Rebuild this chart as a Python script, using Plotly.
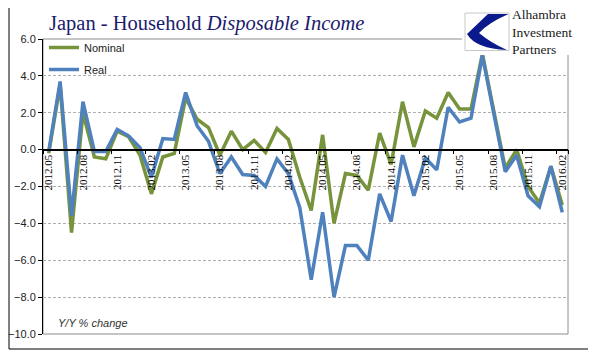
import plotly.graph_objects as go

months = ["2012.05", "2012.06", "2012.07", "2012.08", "2012.09", "2012.10", "2012.11", "2012.12",
          "2013.01", "2013.02", "2013.03", "2013.04", "2013.05", "2013.06", "2013.07", "2013.08",
          "2013.09", "2013.10", "2013.11", "2013.12", "2014.01", "2014.02", "2014.03", "2014.04",
          "2014.05", "2014.06", "2014.07", "2014.08", "2014.09", "2014.10", "2014.11", "2014.12",
          "2015.01", "2015.02", "2015.03", "2015.04", "2015.05", "2015.06", "2015.07", "2015.08",
          "2015.09", "2015.10", "2015.11", "2015.12", "2016.01", "2016.02"]

nominal = [-0.2, 3.5, -4.5, 2.0, -0.4, -0.5, 1.0, 0.7, -0.3, -2.4, -0.4, -0.2, 2.8, 1.65, 1.2, -0.3,
           1.0, 0.0, 0.5, -0.15, 1.15, 0.55, -1.5, -3.3, 0.8, -4.0, -1.3, -1.4, -2.2, 0.9, -0.8, 2.6,
           0.15, 2.1, 1.7, 3.1, 2.2, 2.2, 5.2, 2.1, -1.0, 0.0, -2.0, -2.9, -0.9, -3.0]

real = [-0.1, 3.7, -3.6, 2.6, -0.1, -0.1, 1.1, 0.75, 0.1, -1.5, 0.6, 0.55, 3.1, 1.3, 0.45, -1.3,
        -0.4, -1.35, -1.4, -2.0, -0.5, -1.3, -3.15, -7.05, -3.4, -8.0, -5.2, -5.2, -6.0, -2.4, -3.9, -0.3,
        -2.5, -0.45, -1.1, 2.3, 1.5, 1.7, 5.1, 1.9, -1.2, -0.3, -2.5, -3.1, -0.9, -3.4]

tick_months = months[::3]
y_ticks = [-10, -8, -6, -4, -2, 0, 2, 4, 6]

W, H = 596, 361
OFF = 8  # page body margin offset
L, R, T, B = 43, 568, 39, 334  # plot area in window pixels


def px(x):
    return (x - L) / (R - L)


def py(y):
    return (B - y) / (B - T)


fig = go.Figure()
fig.add_trace(go.Scatter(x=months, y=nominal, mode="lines", name="Nominal", legendgroup="a",
                         line=dict(color="#77933C", width=3.5)))
fig.add_trace(go.Scatter(x=months, y=real, mode="lines", name="Real", legendgroup="b",
                         line=dict(color="#4F81BD", width=3.5)))

shapes = []
shapes.append(dict(type="rect", xref="paper", yref="paper", x0=px(9), x1=px(589), y0=py(349), y1=py(7),
                   line=dict(color="black", width=1), fillcolor="rgba(0,0,0,0)", layer="below"))
shapes.append(dict(type="rect", xref="paper", yref="paper", x0=0, x1=1, y0=0, y1=1,
                   line=dict(color="#8c8c8c", width=1), fillcolor="rgba(0,0,0,0)", layer="below"))
shapes.append(dict(type="rect", xref="paper", yref="paper", x0=px(462), x1=px(588), y0=py(55), y1=py(8),
                   line=dict(width=0), fillcolor="white", layer="above"))
shapes.append(dict(type="rect", xref="paper", yref="paper", x0=px(465), x1=px(509), y0=py(50.5), y1=py(13),
                   line=dict(color="#c8c8c8", width=1), fillcolor="white", layer="above"))
pts = [("M", 488, 14), ("L", 508.5, 14), ("Q", 488, 23), ("", 479, 33), ("Q", 491, 43), ("", 507, 50),
       ("Q", 476, 49), ("", 467, 34)]
path = ""
for cmd, x, y in pts:
    path += f"{cmd} {px(x):.4f},{py(y):.4f} "
path += "Z"
shapes.append(dict(type="path", xref="paper", yref="paper", path=path,
                   fillcolor="#0a1a8c", line=dict(width=0), layer="above"))

annotations = [
    dict(text="Japan - Household <i>Disposable Income</i>", xref="paper", yref="paper",
         x=px(47), y=py(24), xanchor="left", yanchor="middle", showarrow=False,
         font=dict(family="Liberation Serif", size=20.5, color="#1b1b6e")),
    dict(text="<i>Y/Y % change</i>", xref="paper", yref="paper",
         x=px(56), y=py(323), xanchor="left", yanchor="middle", showarrow=False,
         font=dict(family="Liberation Sans", size=11, color="#333333")),
    dict(text="Alhambra<br>Investment<br>Partners", xref="paper", yref="paper",
         x=px(510), y=py(31.5), xanchor="left", yanchor="middle", align="left", showarrow=False,
         font=dict(family="Liberation Serif", size=13.5, color="#1a1a1a")),
]

fig.update_layout(
    width=W, height=H,
    margin=dict(l=L - OFF, r=W - R + OFF, t=T - OFF, b=H - B + OFF, autoexpand=False),
    paper_bgcolor="white", plot_bgcolor="white",
    showlegend=True,
    legend=dict(x=px(44), y=py(33), xanchor="left", yanchor="top", bgcolor="rgba(0,0,0,0)",
                font=dict(family="Liberation Sans", size=11, color="#222222"),
                tracegroupgap=3, itemwidth=30),
    shapes=shapes,
    annotations=annotations,
    xaxis=dict(type="category", range=[-0.5, len(months) - 0.5], tickvals=tick_months,
               tickangle=-90, tickfont=dict(family="Liberation Serif", size=11, color="black"),
               showline=True, linecolor="black", linewidth=1.5, showgrid=False,
               ticks="outside", ticklen=4, tickcolor="black", tickson="boundaries",
               anchor="free", position=py(149.6), zeroline=False, automargin=False),
    yaxis=dict(range=[-10, 6], tickvals=y_ticks, tickformat=".1f",
               tickfont=dict(family="Liberation Sans", size=11, color="#222222"),
               showline=True, linecolor="black", linewidth=1, ticks="outside", ticklen=4,
               tickcolor="black", showgrid=True, gridcolor="#b0b0b0", griddash="3px,2px",
               gridwidth=1, zeroline=False, automargin=False),
)

fig.write_html("out.html")
